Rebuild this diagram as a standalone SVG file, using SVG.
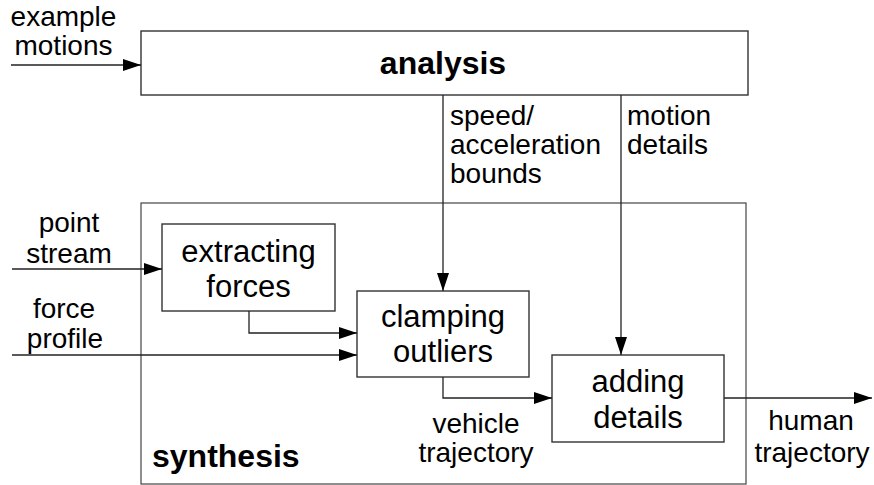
<svg xmlns="http://www.w3.org/2000/svg" width="874" height="485" viewBox="0 0 874 485">
<style>
.box{fill:#fff;stroke:#333;stroke-width:1.4}
.frame{fill:none;stroke:#444;stroke-width:1.2}
.ln{fill:none;stroke:#222;stroke-width:1.3}
.lbl{font-family:"Liberation Sans",Arial,sans-serif;font-size:28px;fill:#000}
.bt{font-family:"Liberation Sans",Arial,sans-serif;font-size:31px;fill:#000;text-anchor:middle}
.bold{font-family:"Liberation Sans",Arial,sans-serif;font-size:32px;font-weight:bold;fill:#000}
</style>
<defs>
<marker id="ah" markerUnits="userSpaceOnUse" markerWidth="18" markerHeight="12" refX="18" refY="6" orient="auto">
<path d="M0,0 L18,6 L0,12 z" fill="#000"/>
</marker>
</defs>
<g id="synthesis">
<rect class="frame" x="141" y="203" width="605" height="281"/>
<text class="bold" x="152" y="467">synthesis</text>
</g>
<g id="analysis">
<rect class="box" x="141" y="31" width="607" height="64"/>
<text class="bold" x="443" y="74" text-anchor="middle">analysis</text>
</g>
<g id="extracting-forces">
<rect class="box" x="162" y="224" width="173" height="87"/>
<text class="bt" x="248.5" y="262">extracting</text>
<text class="bt" x="248.5" y="297">forces</text>
</g>
<g id="clamping-outliers">
<rect class="box" x="357" y="291" width="172" height="86"/>
<text class="bt" x="443" y="327">clamping</text>
<text class="bt" x="443" y="362">outliers</text>
</g>
<g id="adding-details">
<rect class="box" x="552" y="355" width="172" height="87"/>
<text class="bt" x="638" y="392">adding</text>
<text class="bt" x="638" y="428">details</text>
</g>
<g id="connectors">
<line class="ln" x1="11" y1="65" x2="141" y2="65" marker-end="url(#ah)"/>
<line class="ln" x1="12" y1="269" x2="162" y2="269" marker-end="url(#ah)"/>
<line class="ln" x1="12" y1="355" x2="357" y2="355" marker-end="url(#ah)"/>
<polyline class="ln" points="249,311 249,333 357,333" marker-end="url(#ah)"/>
<line class="ln" x1="443" y1="95" x2="443" y2="291" marker-end="url(#ah)"/>
<line class="ln" x1="621" y1="95" x2="621" y2="355" marker-end="url(#ah)"/>
<polyline class="ln" points="443,377 443,398 552,398" marker-end="url(#ah)"/>
<line class="ln" x1="724" y1="398" x2="872" y2="398" marker-end="url(#ah)"/>
</g>
<g id="labels">
<text class="lbl" x="63.5" y="26" text-anchor="middle">example</text>
<text class="lbl" x="63.5" y="55" text-anchor="middle">motions</text>
<text class="lbl" x="69" y="232" text-anchor="middle">point</text>
<text class="lbl" x="69" y="263" text-anchor="middle">stream</text>
<text class="lbl" x="64" y="318" text-anchor="middle">force</text>
<text class="lbl" x="65" y="348" text-anchor="middle">profile</text>
<text class="lbl" x="450" y="125">speed/</text>
<text class="lbl" x="450" y="154">acceleration</text>
<text class="lbl" x="450" y="183">bounds</text>
<text class="lbl" x="627" y="125">motion</text>
<text class="lbl" x="627" y="154">details</text>
<text class="lbl" x="476" y="433" text-anchor="middle">vehicle</text>
<text class="lbl" x="476" y="462" text-anchor="middle">trajectory</text>
<text class="lbl" x="811" y="430" text-anchor="middle">human</text>
<text class="lbl" x="812" y="462" text-anchor="middle">trajectory</text>
</g>
</svg>
